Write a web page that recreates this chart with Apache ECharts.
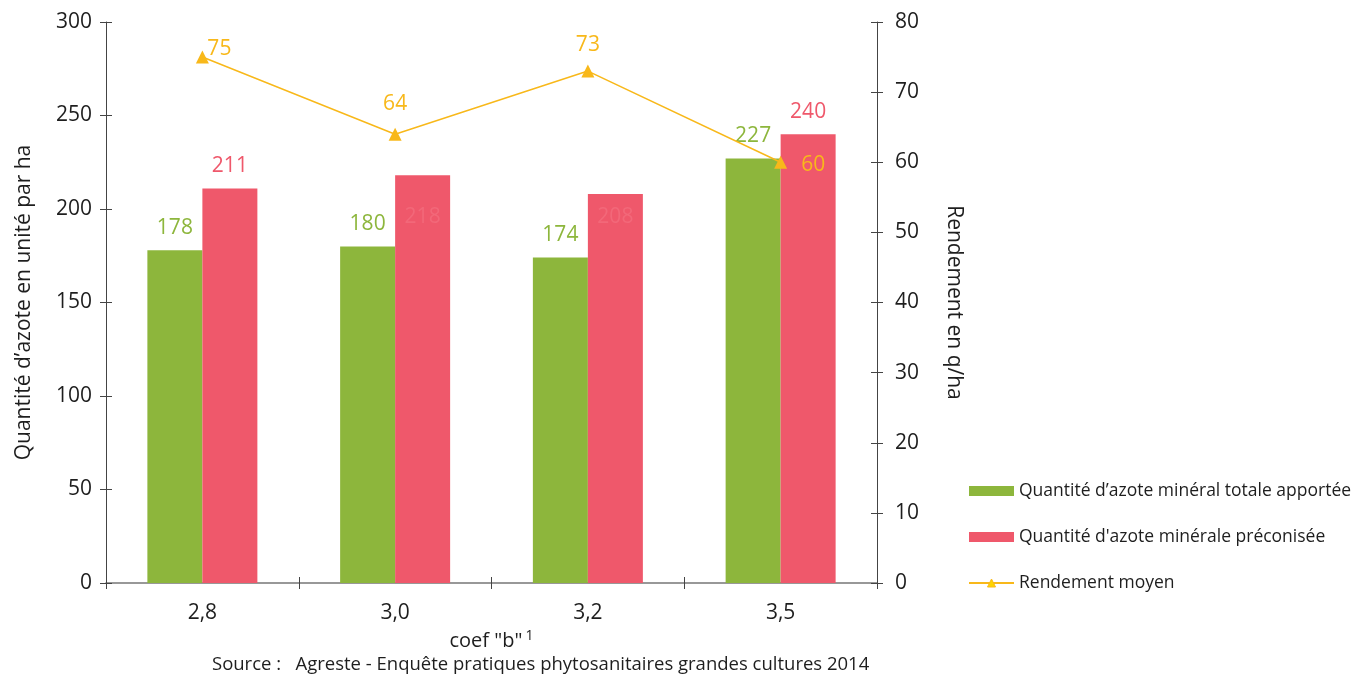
<!DOCTYPE html>
<html><head><meta charset="utf-8">
<script src="https://cdn.jsdelivr.net/npm/echarts@6/dist/echarts.min.js"></script>
<style>html,body{margin:0;padding:0;background:#fff}#c{width:1362px;height:677px}</style>
</head><body><div id="c"></div>
<script>
const categories = ['2,8', '3,0', '3,2', '3,5'];
const azoteApporte = [178, 180, 174, 227];
const azotePreconise = [211, 218, 208, 240];
const rendement = [75, 64, 73, 60];
const leftTicks = [0, 50, 100, 150, 200, 250, 300];
const rightTicks = [0, 10, 20, 30, 40, 50, 60, 70, 80];

const FONT = '"Open Sans", "Noto Sans", sans-serif';
const GREEN = '#8DB63C', PINK = '#EF586B', ORANGE = '#F8B81A';
const AXIS = '#444';
const TXT = '#1e1e1e';

// label placement per item (style, not data)
const pinkLabelInside = [false, true, true, false];
const pinkInsideDist = [0, 31, 12, 0];
const lineLabelPos = [
  {position: 'top', offset: [17, 14]},
  {position: 'top', offset: [0, -8]},
  {position: 'top', offset: [0, -4]},
  {position: 'right', offset: [9, 3]}
];

const leftMin = leftTicks[0], leftMax = leftTicks[leftTicks.length - 1], leftStep = leftTicks[1] - leftTicks[0];
const rightMin = rightTicks[0], rightMax = rightTicks[rightTicks.length - 1], rightStep = rightTicks[1] - rightTicks[0];

const tickStyle = {show: true, length: 6, lineStyle: {color: AXIS}};
const chart = echarts.init(document.getElementById('c'));
chart.setOption({
  animation: false,
  textStyle: {fontFamily: FONT},
  grid: {left: 106, right: 485, top: 22, bottom: 94},
  legend: {
    orient: 'vertical', left: 963, top: 477, itemWidth: 45, itemHeight: 10, itemGap: 28,
    textStyle: {fontSize: 17.5, color: TXT, fontFamily: FONT},
    data: [
      {name: 'Quantité d’azote minéral totale apportée', icon: 'rect'},
      {name: "Quantité d'azote minérale préconisée", icon: 'rect'},
      {name: 'Rendement moyen', itemStyle: {color: '#FFD500', borderColor: ORANGE, borderWidth: 1}}
    ]
  },
  xAxis: [{
    type: 'category', data: categories,
    axisLine: {lineStyle: {color: '#777', width: 1.5}},
    axisTick: tickStyle,
    axisLabel: {fontSize: 21, color: TXT, margin: 20},
    name: '{a|coef "b"} {s|1}', nameLocation: 'middle', nameGap: 42,
    nameTextStyle: {rich: {a: {fontSize: 20, color: TXT, fontFamily: FONT}, s: {fontSize: 14, color: TXT, verticalAlign: 'top', padding: [0, 0, 10, 0], fontFamily: FONT}}}
  }, {
    type: 'category', data: categories, position: 'bottom',
    axisLine: {show: false}, axisLabel: {show: false},
    axisTick: {show: true, inside: true, length: 6, lineStyle: {color: AXIS}}
  }],
  yAxis: [
    {
      type: 'value', min: leftMin, max: leftMax, interval: leftStep,
      axisLine: {show: true, lineStyle: {color: AXIS}},
      axisTick: tickStyle,
      splitLine: {show: false},
      axisLabel: {fontSize: 21, color: TXT, margin: 14},
      name: 'Quantité d’azote en unité par ha', nameLocation: 'middle', nameGap: 71,
      nameTextStyle: {fontSize: 21, color: TXT}
    },
    {
      type: 'value', min: rightMin, max: rightMax, interval: rightStep, position: 'right',
      axisLine: {show: true, lineStyle: {color: AXIS}},
      axisTick: tickStyle,
      splitLine: {show: false},
      axisLabel: {fontSize: 21, color: TXT, margin: 18},
      name: 'Rendement en q/ha', nameLocation: 'middle', nameGap: 66, nameRotate: -90,
      nameTextStyle: {fontSize: 21, color: TXT}
    },
    {
      type: 'value', min: leftMin, max: leftMax, interval: leftStep, position: 'left',
      axisLine: {show: false}, axisLabel: {show: false}, splitLine: {show: false},
      axisTick: {show: true, inside: true, length: 6, lineStyle: {color: AXIS}}
    },
    {
      type: 'value', min: rightMin, max: rightMax, interval: rightStep, position: 'right',
      axisLine: {show: false}, axisLabel: {show: false}, splitLine: {show: false},
      axisTick: {show: true, inside: true, length: 6, lineStyle: {color: AXIS}}
    }
  ],
  series: [
    {
      name: 'Quantité d’azote minéral totale apportée', type: 'bar', yAxisIndex: 0,
      data: azoteApporte, barWidth: 55, barGap: '0%', itemStyle: {color: GREEN},
      label: {show: true, position: 'top', distance: 12, fontSize: 21, color: GREEN}
    },
    {
      name: "Quantité d'azote minérale préconisée", type: 'bar', yAxisIndex: 0,
      data: azotePreconise.map((v, i) => pinkLabelInside[i]
        ? {value: v, label: {position: 'insideTop', distance: pinkInsideDist[i], color: '#F26879'}}
        : {value: v}),
      barWidth: 55, itemStyle: {color: PINK},
      label: {show: true, position: 'top', distance: 12, fontSize: 21, color: PINK}
    },
    {
      name: 'Rendement moyen', type: 'line', yAxisIndex: 1,
      data: rendement.map((v, i) => ({value: v, label: lineLabelPos[i]})),
      symbol: 'triangle', symbolSize: 13,
      lineStyle: {color: ORANGE, width: 1.5}, itemStyle: {color: ORANGE},
      label: {show: true, fontSize: 21, color: ORANGE},
      z: 5
    }
  ],
  graphic: [{
    type: 'text', left: 212, top: 655,
    style: {text: 'Source :   Agreste - Enquête pratiques phytosanitaires grandes cultures 2014', fontSize: 18.5, fill: TXT, fontFamily: FONT}
  }]
});
</script></body></html>
